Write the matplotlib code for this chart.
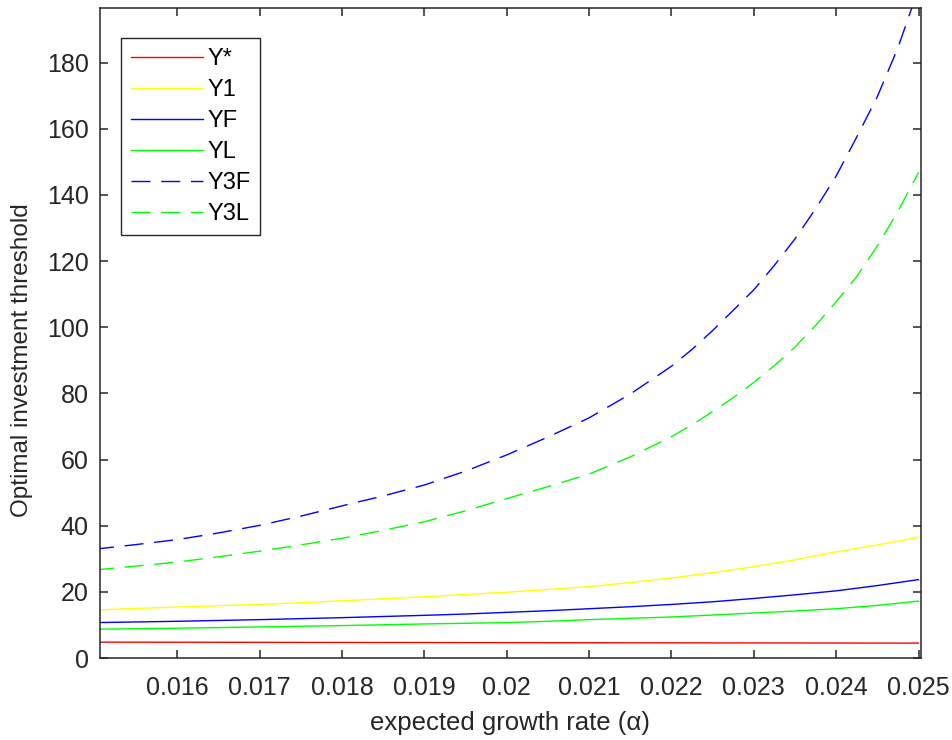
import numpy as np
import matplotlib
matplotlib.use("Agg")
import matplotlib.pyplot as plt

# growth rate grid for the solid curves
alpha = [0.0150, 0.0155, 0.0160, 0.0165, 0.0170, 0.0175, 0.0180, 0.0185, 0.0190,
         0.0195, 0.0200, 0.0205, 0.0210, 0.0215, 0.0220, 0.0225, 0.0230, 0.0235,
         0.0240, 0.0245, 0.0250]

y_star = [4.80, 4.78, 4.77, 4.75, 4.74, 4.72, 4.71, 4.69, 4.68, 4.66, 4.65,
          4.63, 4.62, 4.60, 4.59, 4.57, 4.56, 4.54, 4.53, 4.51, 4.50]
y_1 = [14.5, 15.0, 15.4, 15.8, 16.2, 16.7, 17.3, 17.9, 18.5, 19.2, 19.9,
       20.7, 21.6, 22.8, 24.2, 25.8, 27.6, 29.7, 32.1, 34.2, 36.5]
y_f = [10.7, 10.9, 11.1, 11.35, 11.6, 11.9, 12.2, 12.55, 12.9, 13.3, 13.8,
       14.3, 14.9, 15.5, 16.2, 17.0, 18.0, 19.1, 20.3, 21.9, 23.7]
y_l = [8.7, 8.85, 9.0, 9.2, 9.4, 9.6, 9.8, 10.05, 10.3, 10.5, 10.7,
       11.1, 11.6, 12.0, 12.4, 13.0, 13.6, 14.2, 14.9, 15.9, 17.2]

# finer grid near the upper end for the steep three-firm curves
alpha_3 = [0.0150, 0.0155, 0.0160, 0.0165, 0.0170, 0.0175, 0.0180, 0.0185,
           0.0190, 0.0195, 0.0200, 0.0205, 0.0210, 0.0215, 0.0220, 0.02225,
           0.0225, 0.02275, 0.0230, 0.02325, 0.0235, 0.02375, 0.0240,
           0.02425, 0.0245, 0.02475, 0.0250]
y_3f = [32.9, 34.3, 35.8, 37.8, 40.1, 42.9, 46.0, 49.0, 52.3, 56.5, 61.4,
        66.8, 72.6, 79.8, 88.2, 93.3, 99.0, 105.1, 111.3, 118.7, 126.7,
        135.8, 145.7, 157.5, 169.7, 184.5, 202.3]
y_3l = [26.6, 27.8, 29.0, 30.6, 32.3, 34.2, 36.2, 38.6, 41.2, 44.5, 48.2,
        51.8, 55.6, 60.8, 66.9, 70.5, 74.5, 78.7, 83.3, 88.4, 94.0,
        100.5, 107.7, 115.3, 124.6, 135.0, 146.8]

xticks = [0.016, 0.017, 0.018, 0.019, 0.02, 0.021, 0.022, 0.023, 0.024, 0.025]
xticklabels = ["0.016", "0.017", "0.018", "0.019", "0.02", "0.021", "0.022",
               "0.023", "0.024", "0.025"]
yticks = [0, 20, 40, 60, 80, 100, 120, 140, 160, 180]

plt.rcParams['font.family'] = ['Liberation Sans', 'DejaVu Sans']
axcol = '#262626'

fig = plt.figure(figsize=(9.53, 7.4), dpi=100)
ax = fig.add_axes([0.1049, 0.1108, 0.8615, 0.8784])

lw = 1.0
dash = (13.7, 7.7)
ax.plot(alpha, y_star, color='#ff0000', lw=lw, label='Y*')
ax.plot(alpha, y_1, color='#ffff00', lw=lw, label='Y1')
ax.plot(alpha, y_f, color='#0000ff', lw=lw, label='YF')
ax.plot(alpha, y_l, color='#00ff00', lw=lw, label='YL')
ax.plot(alpha_3, y_3f, color='#0000ff', lw=lw, dashes=dash, label='Y3F')
ax.plot(alpha_3, y_3l, color='#00ff00', lw=lw, dashes=dash, label='Y3L')

ax.set_xlim(0.01506, 0.02503)
ax.set_ylim(0, 196.5)
ax.set_xticks(xticks)
ax.set_xticklabels(xticklabels)
ax.set_yticks(yticks)

for s in ax.spines.values():
    s.set_color(axcol)
    s.set_linewidth(1.1)
ax.tick_params(direction='in', length=5.8, width=1.1, color=axcol,
               labelcolor=axcol, labelsize=18, top=True, right=True)
ax.tick_params(axis='x', pad=13)
ax.tick_params(axis='y', pad=8)

ax.set_xlabel('expected growth rate (α)', fontsize=18.5, color=axcol, labelpad=8)
ax.set_ylabel('Optimal investment threshold', fontsize=17.5, color=axcol,
              labelpad=10)
ax.yaxis.label.set_y(0.458)

leg = ax.legend(loc='upper left', bbox_to_anchor=(0.0252, 0.9534), fontsize=17,
                handlelength=3.05, handletextpad=0.2, labelspacing=0.38,
                borderpad=0.42, borderaxespad=0, fancybox=False, framealpha=1)
leg.get_frame().set_edgecolor(axcol)
leg.get_frame().set_linewidth(1.0)

fig.savefig('out.png', dpi=100)
